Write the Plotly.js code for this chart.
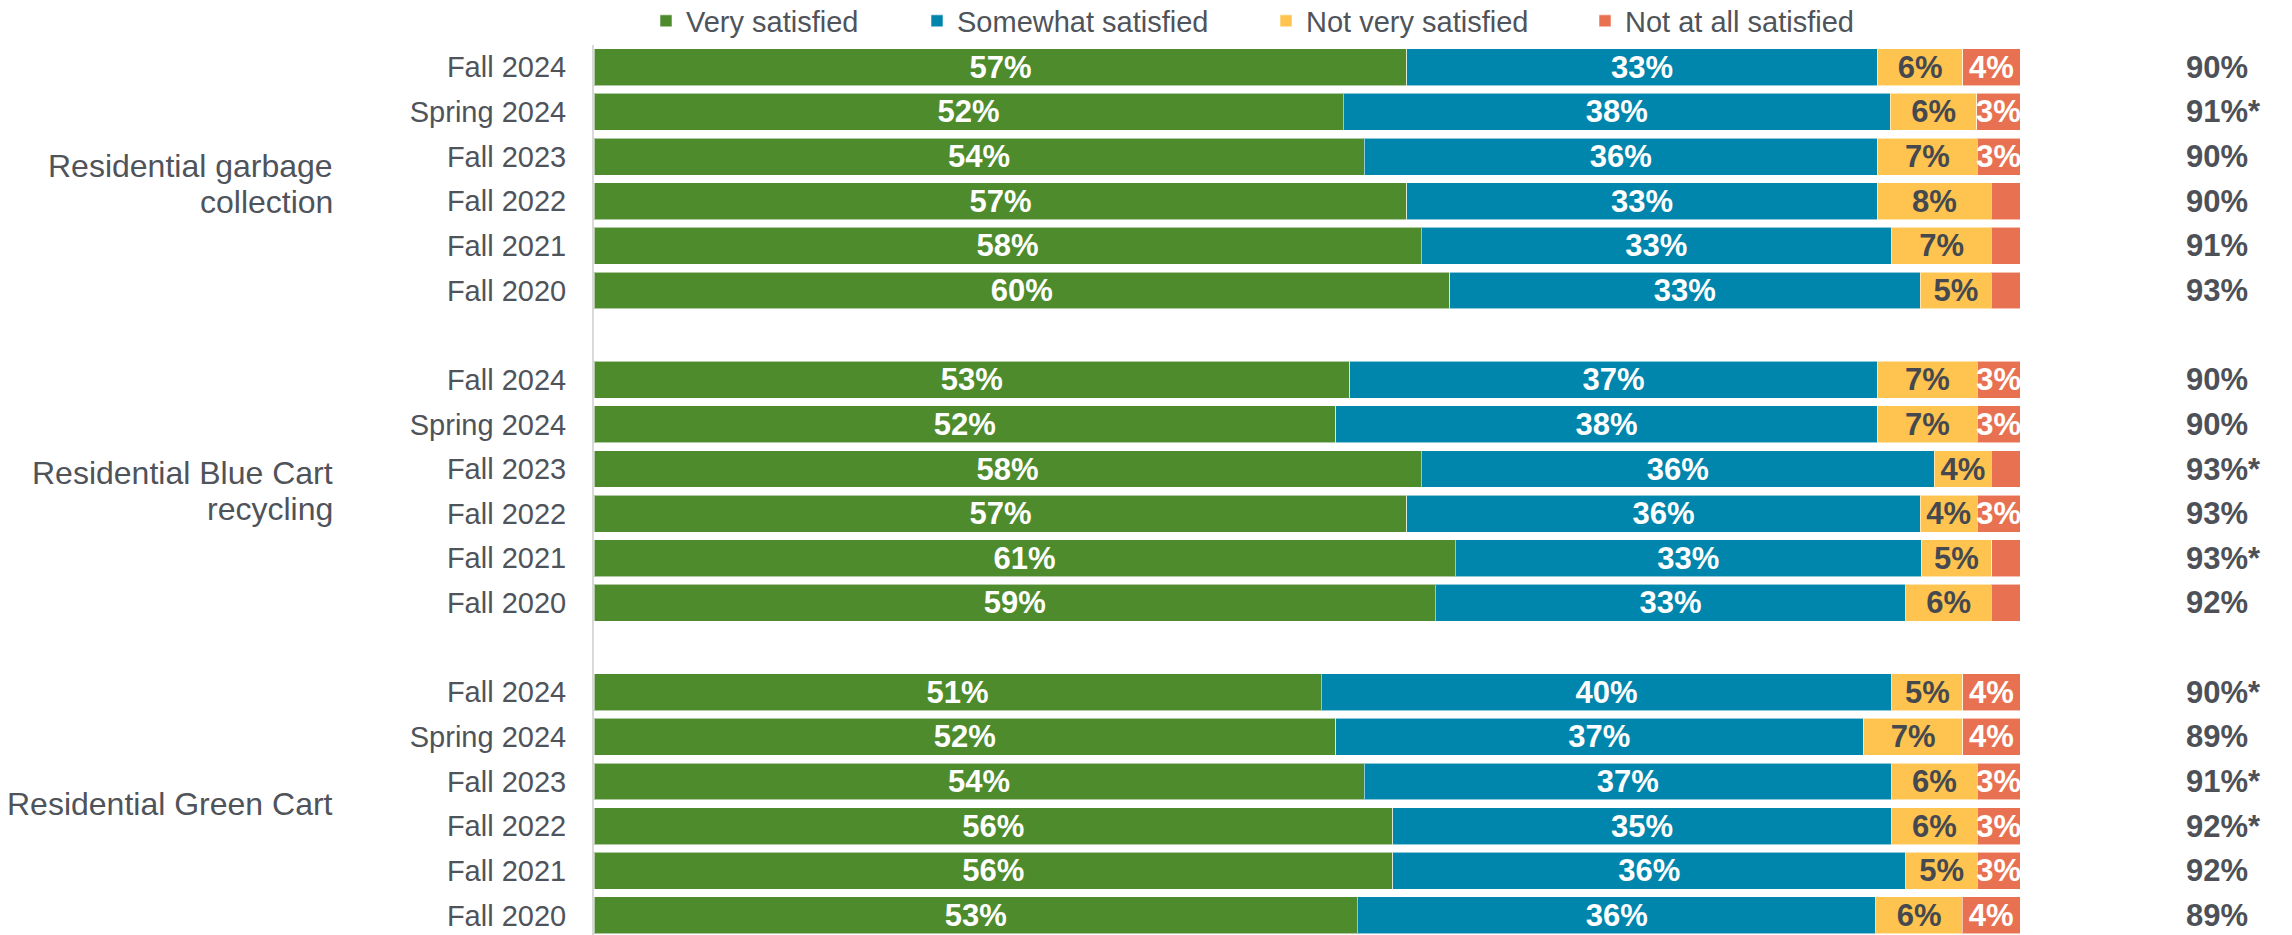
<!DOCTYPE html>
<html><head><meta charset="utf-8">
<script src="https://cdn.plot.ly/plotly-3.0.1.min.js"></script>
<style>html,body{margin:0;padding:0;background:#fff}#chart{width:2292px;height:935px}</style>
</head><body><div id="chart"></div>
<script>
// ---- data ----
const groups = ['Residential garbage<br>collection', 'Residential Blue Cart<br>recycling', 'Residential Green Cart'];
const periods = ['Fall 2024', 'Spring 2024', 'Fall 2023', 'Fall 2022', 'Fall 2021', 'Fall 2020'];
const seriesNames = ['Very satisfied', 'Somewhat satisfied', 'Not very satisfied', 'Not at all satisfied'];
const verySatisfied     = [57, 52, 54, 57, 58, 60,  53, 52, 58, 57, 61, 59,  51, 52, 54, 56, 56, 53];
const somewhatSatisfied = [33, 38, 36, 33, 33, 33,  37, 38, 36, 36, 33, 33,  40, 37, 37, 35, 36, 36];
const notVerySatisfied  = [ 6,  6,  7,  8,  7,  5,   7,  7,  4,  4,  5,  6,   5,  7,  6,  6,  5,  6];
const notAtAllSatisfied = [ 4,  3,  3,  2,  2,  2,   3,  3,  2,  3,  2,  2,   4,  4,  3,  3,  3,  4];
const totalSatisfied = ['90%', '91%*', '90%', '90%', '91%', '93%',
                        '90%', '90%', '93%*', '93%', '93%*', '92%',
                        '90%*', '89%', '91%*', '92%*', '92%', '89%'];

// ---- styles ----
const colors = ['#4E8B2D', '#0086AD', '#FEC44F', '#E87151'];
const labelColors = ['#FFFFFF', '#FFFFFF', '#45494F', '#FFFFFF'];
const groupLabelShift = [-5, 0, 0];
const FONT = '"Liberation Sans", Arial, sans-serif';
const GRAY = '#4F535A';

// row slots: one blank slot between groups
const slotsPerGroup = periods.length + 1;
const yPos = [], tickText = [];
groups.forEach((g, gi) => periods.forEach((p, pi) => { yPos.push(gi * slotsPerGroup + pi); tickText.push(p); }));

const series = [verySatisfied, somewhatSatisfied, notVerySatisfied, notAtAllSatisfied];
const legendIds = ['legend', 'legend2', 'legend3', 'legend4'];
const traces = series.map((vals, k) => ({
  type: 'bar', orientation: 'h', name: seriesNames[k],
  x: vals, y: yPos,
  text: vals.map(v => v >= 3 ? v + '%' : ''),
  textposition: 'inside', insidetextanchor: 'middle', textangle: 0,
  constraintext: 'none', cliponaxis: true,
  textfont: {family: FONT, size: 31, color: labelColors[k], weight: 'bold'},
  marker: {color: colors[k], line: {color: 'rgba(255,255,255,0.55)', width: 1}},
  legend: legendIds[k], hoverinfo: 'skip'
}));

const plotL = 594, plotW = 1426, plotT = 45, plotH = 890;
const px2paperX = px => (px - plotL) / plotW;
const legendLeft = [646, 917, 1266, 1585];
const legendY = (plotT + plotH - 21) / plotH;

const annotations = [];
const lineGap = 36;
groups.forEach((g, gi) => {
  const lines = g.split('<br>');
  lines.forEach((ln, j) => {
    annotations.push({
      xref: 'paper', yref: 'y', x: px2paperX(335), y: gi * slotsPerGroup + (periods.length - 1) / 2,
      yshift: -(j - (lines.length - 1) / 2) * lineGap + groupLabelShift[gi],
      xanchor: 'right', yanchor: 'middle', align: 'right', showarrow: false, text: ln,
      font: {family: FONT, size: 32, color: GRAY}
    });
  });
});
totalSatisfied.forEach((t, i) => {
  annotations.push({
    xref: 'paper', yref: 'y', x: px2paperX(2184), y: yPos[i],
    xanchor: 'left', yanchor: 'middle', showarrow: false, text: t,
    font: {family: FONT, size: 31, color: '#4D5157', weight: 'bold'}
  });
});

const layout = {
  width: 2292, height: 935,
  margin: {l: plotL, r: 2292 - plotL - plotW, t: plotT, b: 935 - plotT - plotH, pad: 0, autoexpand: false},
  paper_bgcolor: '#fff', plot_bgcolor: '#fff',
  barmode: 'stack', barnorm: 'percent', bargap: 0.173,
  font: {family: FONT, color: GRAY},
  xaxis: {range: [0, 100], visible: false, fixedrange: true},
  yaxis: {
    range: [19.44, -0.5], tickvals: yPos, ticktext: tickText, ticks: '',
    ticklabelstandoff: 20, tickfont: {family: FONT, size: 29, color: GRAY},
    showgrid: false, zeroline: false, showline: true, linecolor: '#D9D9D9', linewidth: 2
  },
  annotations: annotations,
  showlegend: true
};
legendIds.forEach((id, k) => {
  layout[id] = {
    x: px2paperX(legendLeft[k]), y: legendY, xanchor: 'left', yanchor: 'middle',
    orientation: 'h', bgcolor: 'rgba(0,0,0,0)', borderwidth: 0,
    font: {family: FONT, size: 29, color: GRAY}
  };
});

Plotly.newPlot('chart', traces, layout, {displayModeBar: false, staticPlot: true});
</script>
</body></html>
